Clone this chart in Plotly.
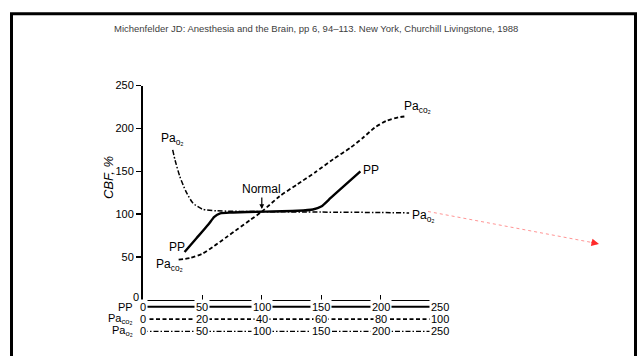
import plotly.graph_objects as go

# ---- data ----
pp_mmhg = [35, 45, 55, 60, 65, 75, 100, 130, 143, 150, 158, 170, 183]
pp_cbf = [56, 72, 88, 97, 101, 102, 103, 104, 105.5, 109, 119, 134, 150]

paco2_mmhg = [12, 16, 20, 24, 28, 32, 36, 40, 46, 52, 58, 64, 70, 74, 78, 82, 86, 88]
paco2_cbf = [47, 49, 54, 63, 73, 83, 93, 103, 121, 135, 149, 164, 178, 189, 201, 209, 213, 214]

pao2_mmhg = [25, 27, 31, 36, 42, 50, 62, 100, 150, 200, 224]
pao2_cbf = [175, 163, 144, 127, 113, 106, 104, 103, 102.5, 102, 101.5]

cbf_ticks = [50, 100, 150, 200, 250]
pp_scale = [0, 50, 100, 150, 200, 250]
paco2_scale = [0, 20, 40, 60, 80, 100]
pao2_scale = [0, 50, 100, 150, 200, 250]

title_text = "Michenfelder JD: Anesthesia and the Brain, pp 6, 94\u2013113. New York, Churchill Livingstone, 1988"

W, H = 639, 356
FONT = "Liberation Sans, Arial, sans-serif"
XDOM = [143 / W, 440 / W]
YDOM = [1 - 299 / H, 1 - 81 / H]
ROWDOM = [1 - 337.25 / H, 1 - 299.75 / H]

fig = go.Figure()

# curves
fig.add_trace(go.Scatter(x=pp_mmhg, y=pp_cbf, mode="lines", xaxis="x", yaxis="y",
                         line=dict(color="black", width=2.4, shape="spline", smoothing=0.6),
                         hoverinfo="skip"))
fig.add_trace(go.Scatter(x=paco2_mmhg, y=paco2_cbf, mode="lines", xaxis="x3", yaxis="y",
                         line=dict(color="black", width=1.8, dash="4px,2.5px", shape="spline", smoothing=0.6),
                         hoverinfo="skip"))
fig.add_trace(go.Scatter(x=pao2_mmhg, y=pao2_cbf, mode="lines", xaxis="x", yaxis="y",
                         line=dict(color="black", width=1.5, dash="5px,2px,1.5px,2px", shape="spline", smoothing=0.6),
                         hoverinfo="skip"))

# scale rows below the axis
row_styles = [("solid", 2.0), ("4px,2.5px", 1.6), ("5px,2px,1.5px,2px", 1.4)]
for i, (d, w) in enumerate(row_styles):
    fig.add_trace(go.Scatter(x=[pp_scale[0], pp_scale[-1]], y=[i + 1, i + 1], mode="lines",
                             xaxis="x2", yaxis="y2", line=dict(color="black", width=w, dash=d),
                             hoverinfo="skip"))

annotations = []
numfont = dict(family=FONT, size=11, color="black")
C = dict(xanchor="center", yanchor="middle", showarrow=False)
for v in pp_scale:
    annotations.append(dict(x=v, y=1, xref="x2", yref="y2", text=str(v),
                            bgcolor="white", borderpad=1, font=numfont, **C))
for v in paco2_scale:
    annotations.append(dict(x=v, y=2, xref="x3", yref="y2", text=str(v),
                            bgcolor="white", borderpad=1, font=numfont, **C))
for v in pao2_scale:
    annotations.append(dict(x=v, y=3, xref="x2", yref="y2", text=str(v),
                            bgcolor="white", borderpad=1, font=numfont, **C))

row_names = ["PP", "Pa<sub>co\u2082</sub>", "Pa<sub>o\u2082</sub>"]
for i, t in enumerate(row_names):
    annotations.append(dict(x=135 / W, y=i + 1, xref="paper", yref="y2", text=t, showarrow=False,
                            xanchor="right", yanchor="middle",
                            font=dict(family=FONT, size=11, color="black")))

# y "0" label at the origin
annotations.append(dict(x=141 / W, y=1 - 296 / H, xref="paper", yref="paper", text="0",
                        showarrow=False, xanchor="right", yanchor="middle", font=numfont))

# curve labels
lab = dict(family=FONT, size=12, color="black")
annotations += [
    dict(x=172 / W, y=1 - 135 / H, xref="paper", yref="paper", text="Pa<sub>o\u2082</sub>", font=lab, **C),
    dict(x=177 / W, y=1 - 245 / H, xref="paper", yref="paper", text="PP", font=lab, **C),
    dict(x=169 / W, y=1 - 263 / H, xref="paper", yref="paper", text="Pa<sub>co\u2082</sub>", font=lab, **C),
    dict(x=417 / W, y=1 - 103 / H, xref="paper", yref="paper", text="Pa<sub>co\u2082</sub>", font=lab, **C),
    dict(x=371 / W, y=1 - 167 / H, xref="paper", yref="paper", text="PP", font=lab, **C),
    dict(x=423 / W, y=1 - 214 / H, xref="paper", yref="paper", text="Pa<sub>o\u2082</sub>", font=lab, **C),
    dict(x=100, y=106, xref="x", yref="y", text="Normal", showarrow=True, ax=0, ay=-20,
         arrowhead=2, arrowsize=0.8, arrowwidth=1.2, arrowcolor="black", font=lab),
    dict(x=108 / W, y=1 - 175 / H, xref="paper", yref="paper", text="<i>CBF, %</i>", textangle=-90,
         font=dict(family=FONT, size=13, color="black"), **C),
    dict(x=316 / W, y=1 - 23 / H, xref="paper", yref="paper", text=title_text,
         font=dict(family="Liberation Sans, sans-serif", size=9.5, color="#404040"), **C),
    # red arrow head
    dict(x=599 / W, y=1 - 242 / H, xref="paper", yref="paper", text="", showarrow=True,
         ax=-9, ay=-2, arrowhead=2, arrowsize=1, arrowwidth=1.5, arrowcolor="#ff2a2a"),
]

shapes = [
    # slide frame
    dict(type="rect", xref="paper", yref="paper", x0=11.5 / W, x1=635.5 / W, y0=-0.2, y1=1 - 8 / H,
         line=dict(color="black", width=3), layer="below"),
    # red dotted pointer
    dict(type="line", xref="paper", yref="paper", x0=428 / W, y0=1 - 209 / H, x1=597 / W, y1=1 - 241.5 / H,
         line=dict(color="rgba(255,60,60,0.55)", width=1, dash="dot")),
]

fig.update_layout(
    width=W, height=H, margin=dict(l=0, r=0, t=0, b=0),
    plot_bgcolor="white", paper_bgcolor="white", showlegend=False, hovermode=False,
    xaxis=dict(domain=XDOM, range=[0, 250], showline=True, linecolor="black", linewidth=1.5,
               ticks="inside", ticklen=5, tickwidth=1.3, tickcolor="black", tickvals=pp_scale[1:],
               showticklabels=False, showgrid=False, zeroline=False, anchor="y", fixedrange=True),
    xaxis3=dict(range=[0, 100], overlaying="x", visible=False, anchor="y", showgrid=False, zeroline=False),
    yaxis=dict(domain=YDOM, range=[0, 250], showline=True, linecolor="black", linewidth=2,
               ticks="outside", ticklen=5, tickwidth=1.5, tickcolor="black", tickvals=cbf_ticks,
               tickfont=dict(family=FONT, size=11, color="black"), showgrid=False, zeroline=False,
               anchor="x"),
    xaxis2=dict(domain=XDOM, range=[0, 250], visible=False, anchor="y2"),
    yaxis2=dict(domain=ROWDOM, range=[3.5, 0.5], visible=False, anchor="x2"),
    annotations=annotations,
    shapes=shapes,
)

fig.write_html("out.html", config={"displayModeBar": False, "staticPlot": True},
               post_script="document.body.style.margin='0';document.body.style.overflow='hidden';")
